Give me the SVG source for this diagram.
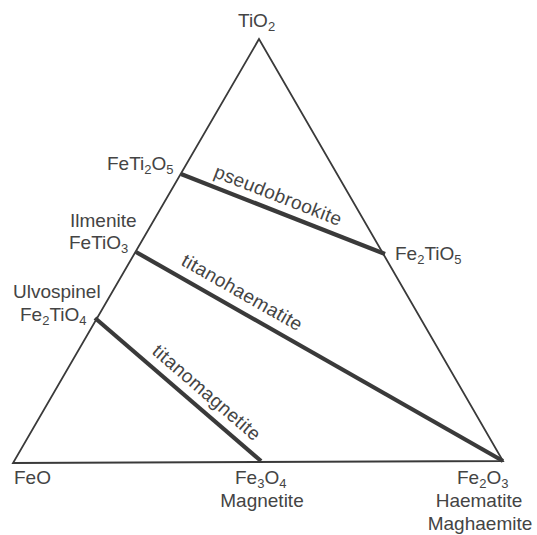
<svg xmlns="http://www.w3.org/2000/svg" width="537" height="535" viewBox="0 0 537 535">
<style>
text{font-family:"Liberation Sans",Arial,sans-serif;font-size:19px;fill:#444444}
.s{font-size:13px}
.r{letter-spacing:0.4px}
.edge{fill:none;stroke:#3a3a3a;stroke-width:1.8;stroke-linejoin:miter}
.join{stroke:#3a3a3a;stroke-width:4.2;stroke-linecap:butt}
</style>
<rect width="537" height="535" fill="#ffffff"/>
<g id="triangle">
<polygon class="edge" points="259,39 13,463 503,461"/>
</g>
<g id="connectors">
<line class="join" x1="181" y1="174" x2="385" y2="254"/>
<line class="join" x1="136" y1="252" x2="503" y2="461"/>
<line class="join" x1="95" y1="318" x2="261" y2="461"/>
</g>
<g id="node-TiO2"><text x="238" y="27">TiO<tspan class="s" dy="4">2</tspan></text></g>
<g id="node-FeTi2O5"><text x="107" y="170">FeTi<tspan class="s" dy="4">2</tspan><tspan dy="-4">O</tspan><tspan class="s" dy="4">5</tspan></text></g>
<g id="node-FeTiO3"><text x="70" y="227">Ilmenite</text><text x="69" y="249">FeTiO<tspan class="s" dy="4">3</tspan></text></g>
<g id="node-Fe2TiO4"><text x="13" y="298">Ulvospinel</text><text x="20" y="321">Fe<tspan class="s" dy="4">2</tspan><tspan dy="-4">TiO</tspan><tspan class="s" dy="4">4</tspan></text></g>
<g id="node-Fe2TiO5"><text x="395" y="260">Fe<tspan class="s" dy="4">2</tspan><tspan dy="-4">TiO</tspan><tspan class="s" dy="4">5</tspan></text></g>
<g id="node-FeO"><text x="14" y="484">FeO</text></g>
<g id="node-Fe3O4"><text x="235" y="484">Fe<tspan class="s" dy="4">3</tspan><tspan dy="-4">O</tspan><tspan class="s" dy="4">4</tspan></text><text x="262" y="507" text-anchor="middle">Magnetite</text></g>
<g id="node-Fe2O3"><text x="457" y="484">Fe<tspan class="s" dy="4">2</tspan><tspan dy="-4">O</tspan><tspan class="s" dy="4">3</tspan></text><text x="479" y="507" text-anchor="middle">Haematite</text><text x="480" y="530" text-anchor="middle">Maghaemite</text></g>
<g id="labels">
<text class="r" transform="translate(272.5,209.8) rotate(21.4)" y="-9" text-anchor="middle">pseudobrookite</text>
<text class="r" transform="translate(233.6,307.6) rotate(29.66)" y="-11" text-anchor="middle">titanohaematite</text>
<text class="r" transform="translate(196,405) rotate(40.75)" y="-10" text-anchor="middle">titanomagnetite</text>
</g>
</svg>
